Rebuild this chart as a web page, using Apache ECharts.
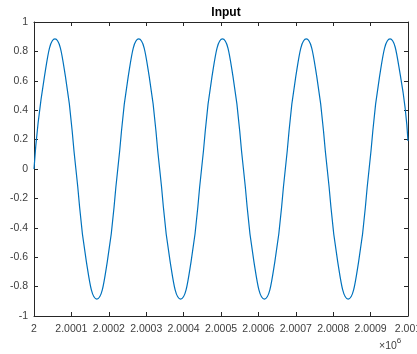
<!DOCTYPE html>
<html>
<head>
<meta charset="utf-8">
<script src="https://cdn.jsdelivr.net/npm/echarts@6/dist/echarts.min.js"></script>
<style>
  html, body { margin: 0; padding: 0; background: #fff; }
  #chart { width: 417px; height: 354px; }
</style>
</head>
<body>
<div id="chart"></div>
<script>
// base of the time axis (shown as x10^6)
const T0 = 2000000;
// sample offsets from T0
const tOffset = [0, 28, 56, 84, 112, 140, 168, 196, 224, 252, 280, 308, 336, 364, 392, 420,
  448, 476, 504, 532, 560, 588, 616, 644, 672, 700, 728, 756, 784, 812, 840, 868,
  896, 924, 952, 980, 1000];
// signal values at those offsets
const inputVals = [0, 0.63, 0.885, 0.63, 0, -0.63, -0.885, -0.63,
  0, 0.63, 0.885, 0.63, 0, -0.63, -0.885, -0.63,
  0, 0.63, 0.885, 0.63, 0, -0.63, -0.885, -0.63,
  0, 0.63, 0.885, 0.63, 0, -0.63, -0.885, -0.63,
  0, 0.63, 0.885, 0.63, 0.19];

const axisCol = '#262626';
const labelCol = '#404040';
const font = 'Liberation Sans, Arial, sans-serif';

const chart = echarts.init(document.getElementById('chart'));

const xFmt = v => parseFloat((v / 1e6).toFixed(4)).toString();

chart.setOption({
  animation: false,
  title: {
    text: 'Input',
    left: 221, top: 2, textAlign: 'center',
    textStyle: { fontSize: 12, fontWeight: 'bold', color: '#000', fontFamily: font }
  },
  grid: { left: 34, right: 9, top: 22, bottom: 38, outerBoundsMode: 'none' },
  xAxis: [
    {
      type: 'value', min: T0, max: T0 + 1000, interval: 100,
      axisLine: { onZero: false, lineStyle: { color: axisCol, width: 1 } },
      axisTick: { inside: true, length: 4, lineStyle: { color: axisCol } },
      axisLabel: { formatter: xFmt, color: labelCol, fontSize: 10.5, fontFamily: font, margin: 8,
        showMinLabel: true, showMaxLabel: true, hideOverlap: false },
      splitLine: { show: false }
    },
    {
      type: 'value', position: 'top', min: T0, max: T0 + 1000, interval: 100,
      axisLine: { onZero: false, lineStyle: { color: axisCol, width: 1 } },
      axisTick: { inside: true, length: 4, lineStyle: { color: axisCol } },
      axisLabel: { show: false },
      splitLine: { show: false }
    }
  ],
  yAxis: [
    {
      type: 'value', min: -1, max: 1, interval: 0.2,
      axisLine: { show: true, onZero: false, lineStyle: { color: axisCol, width: 1 } },
      axisTick: { show: true, inside: true, length: 4, lineStyle: { color: axisCol } },
      axisLabel: { formatter: v => parseFloat(v.toFixed(1)).toString(), color: labelCol,
        fontSize: 10.5, fontFamily: font, margin: 6 },
      splitLine: { show: false }
    },
    {
      type: 'value', position: 'right', min: -1, max: 1, interval: 0.2,
      axisLine: { show: true, onZero: false, lineStyle: { color: axisCol, width: 1 } },
      axisTick: { show: true, inside: true, length: 4, lineStyle: { color: axisCol } },
      axisLabel: { show: false },
      splitLine: { show: false }
    }
  ],
  series: [{
    type: 'line',
    data: tOffset.map((t, i) => [T0 + t, inputVals[i]]),
    smooth: 0.5,
    showSymbol: false,
    lineStyle: { color: '#0072BD', width: 1.2 }
  }],
  graphic: [{
    type: 'text',
    left: 379, top: 337,
    style: {
      text: '{a|×10}{b|6}',
      rich: {
        a: { fontSize: 10.5, fontFamily: font, fill: labelCol, padding: [6, 0, 0, 0] },
        b: { fontSize: 8, fontFamily: font, fill: labelCol, padding: [0, 0, 5, 0] }
      }
    }
  }]
});
</script>
</body>
</html>
